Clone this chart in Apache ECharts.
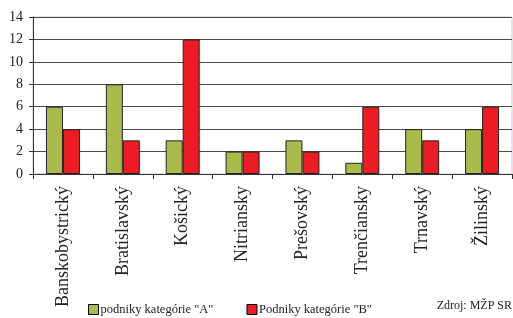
<!DOCTYPE html>
<html>
<head>
<meta charset="utf-8">
<script src="https://cdn.jsdelivr.net/npm/echarts@6/dist/echarts.min.js"></script>
<style>
  html, body { margin: 0; padding: 0; background: #fff; }
  #chart { width: 513px; height: 318px; }
</style>
</head>
<body>
<div id="chart"></div>
<script>
  // kraje
  const categories = ["Banskobystrický", "Bratislavský", "Košický", "Nitriansky", "Prešovský", "Trenčiansky", "Trnavský", "Žilinský"];
  const seriesA = [6, 8, 3, 2, 3, 1, 4, 4];
  const seriesB = [4, 3, 12, 2, 2, 6, 3, 6];
  const seriesNames = ['podniky kategórie "A"', 'Podniky kategórie "B"'];
  const yTicks = { min: 0, max: 14, interval: 2 };

  const serif = "Liberation Serif";
  const chart = echarts.init(document.getElementById("chart"));

  const option = {
    animation: false,
    textStyle: { fontFamily: serif },
    grid: { left: 33, right: 1, top: 17, bottom: 144, show: true, borderColor: "#c8c8c8", borderWidth: 1 },
    legend: {
      left: 83,
      top: 298,
      icon: "rect",
      itemWidth: 10,
      itemHeight: 10,
      itemGap: 33,
      itemStyle: { borderColor: "#000", borderWidth: 1 },
      textStyle: { fontFamily: serif, fontSize: 12.5, color: "#222", padding: [0, 0, 0, -3] },
      data: seriesNames
    },
    graphic: [
      {
        type: "text",
        right: 1,
        top: 300,
        style: { text: "Zdroj: MŽP SR", font: "12px " + serif, fill: "#222" }
      }
    ],
    xAxis: {
      type: "category",
      data: categories,
      axisLine: { lineStyle: { color: "#333", width: 1 } },
      axisTick: { show: true, length: 5, lineStyle: { color: "#333" } },
      axisLabel: { rotate: 90, fontFamily: serif, fontSize: 18, color: "#222", margin: 12, interval: 0 }
    },
    yAxis: {
      type: "value",
      min: yTicks.min,
      max: yTicks.max,
      interval: yTicks.interval,
      axisLine: { show: true, lineStyle: { color: "#333", width: 1 } },
      axisTick: { show: true, length: 4, lineStyle: { color: "#333" } },
      axisLabel: { fontFamily: serif, fontSize: 14, color: "#222", margin: 10 },
      splitLine: { lineStyle: { color: "#4a4a4a", width: 1 } }
    },
    series: [
      {
        name: seriesNames[0],
        type: "bar",
        data: seriesA,
        barWidth: 17,
        barGap: "0%",
        itemStyle: { color: "#abbb4b", borderColor: "#222", borderWidth: 1 }
      },
      {
        name: seriesNames[1],
        type: "bar",
        data: seriesB,
        barWidth: 17,
        barGap: "0%",
        itemStyle: { color: "#ed1c24", borderColor: "#222", borderWidth: 1 }
      }
    ]
  };

  chart.setOption(option);
</script>
</body>
</html>
